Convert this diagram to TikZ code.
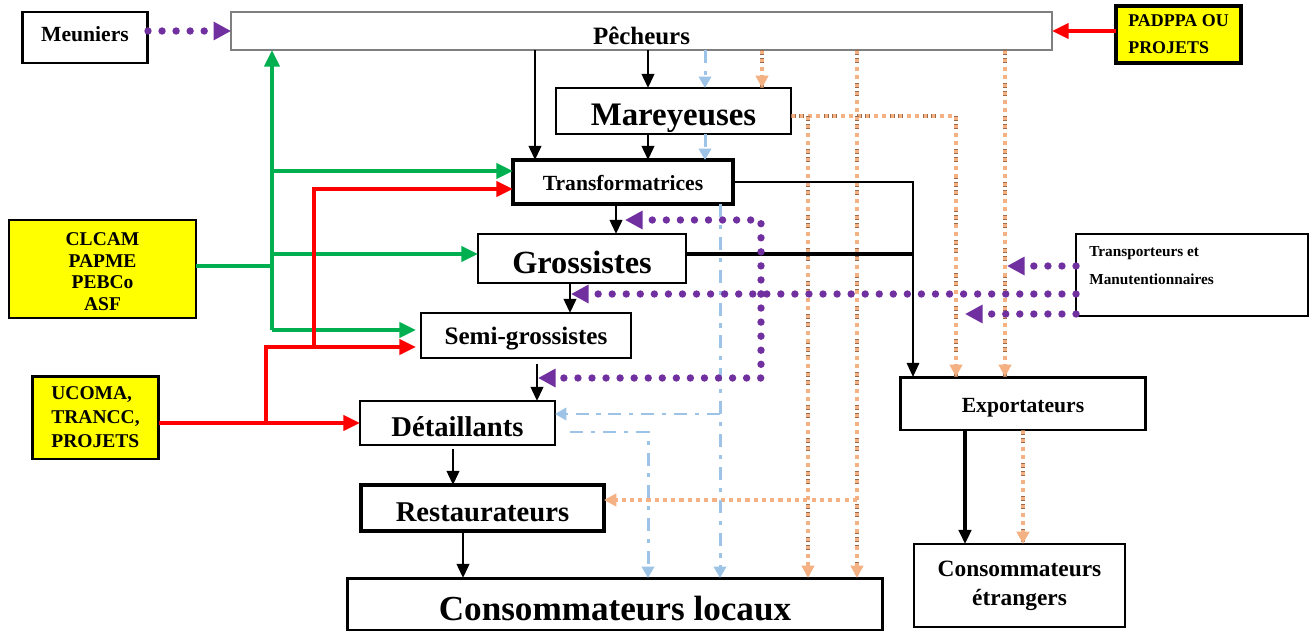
\documentclass[tikz,border=0pt]{standalone}
\usepackage{fontspec}
\setmainfont{Liberation Serif}
\usetikzlibrary{arrows.meta}
\definecolor{cgrn}{HTML}{00B050}
\definecolor{cred}{HTML}{FF0000}
\definecolor{cpur}{HTML}{7030A0}
\definecolor{cblu}{HTML}{9DC3E6}
\definecolor{corg}{HTML}{F4B183}
\definecolor{cbrn}{HTML}{9A6A4A}
\definecolor{cyel}{HTML}{FFFF00}
\definecolor{cgray}{HTML}{7F7F7F}
\newcommand\fsz[2]{\fontsize{#1}{#2}\selectfont}
\newcommand\dn[2]{\raisebox{-#1}[\height][\depth]{#2}}
\tikzset{
  bx/.style={draw, line width=#1, inner sep=0pt, outer sep=0pt},
  blkl/.style={line width=1.6pt},
  blk/.style={blkl, -{Triangle[length=8pt,width=7pt]}},
  grnl/.style={draw=cgrn, line width=2.3pt},
  grn/.style={grnl, -{Triangle[length=9.5pt,width=8.5pt]}},
  redl/.style={draw=cred, line width=2.3pt},
  rd/.style={redl, -{Triangle[length=9.5pt,width=8.5pt]}},
  purl/.style={draw=cpur, line width=4.2pt, line cap=round, dash pattern=on 0pt off 8pt},
  pur/.style={purl, -{Triangle[length=10pt,width=10pt,line cap=butt]}},
  blul/.style={draw=cblu, line width=1.7pt, dash pattern=on 7.4pt off 4.5pt on 2.3pt off 4.5pt},
  blu/.style={blul, -{Triangle[length=6.5pt,width=7pt]}},
  orgl/.style={draw=corg, line width=2.0pt, dash pattern=on 2.0pt off 2.7pt, dash phase=4.4pt,
     preaction={draw=cbrn, arrows=-, line width=2.6pt, dash pattern=on 2.6pt off 2.1pt, dash phase=0pt}},
  org/.style={orgl, -{Triangle[length=7pt,width=7pt,fill=corg]}},
  orgp/.style={draw=corg, line width=2.4pt, dash pattern=on 2.4pt off 2.3pt, -{Triangle[length=7pt,width=7pt]}},
}
\begin{document}
\begin{tikzpicture}[x=0.02cm,y=-0.02cm]
\useasboundingbox (0,0) rectangle (1311,632);

% nodes
\node[bx=1.7pt, minimum width=2.52cm, minimum height=1.02cm, font=\bfseries\fsz{12.3}{14}] (mun) at (85,37.5) {\dn{-0.07cm}{Meuniers}};
\node[bx=1.4pt, draw=cgray, minimum width=16.42cm, minimum height=0.76cm, font=\bfseries\fsz{14.2}{16}] (pec) at (641.5,31) {\dn{0.09cm}{Pêcheurs}};
\node[bx=2pt, fill=cyel, minimum width=2.5cm, minimum height=1.14cm, align=left, font=\bfseries\fsz{10.2}{15.3}] (pad) at (1178.5,34.5) {PADPPA OU\\PROJETS};
\node[bx=0.85pt, minimum width=4.7cm, minimum height=0.92cm, font=\bfseries\fsz{18.7}{20}] (mar) at (673.5,111) {\dn{0.15cm}{Mareyeuses}};
\node[bx=2pt, minimum width=4.4cm, minimum height=0.88cm, font=\bfseries\fsz{12.3}{14}] (tra) at (623,182) {\dn{0.02cm}{Transformatrices}};
\node[bx=1.5pt, minimum width=4.16cm, minimum height=0.98cm, font=\bfseries\fsz{18.4}{20}] (gro) at (582,258.5) {\dn{0.08cm}{Grossistes}};
\node[bx=1.2pt, minimum width=4.2cm, minimum height=0.9cm, font=\bfseries\fsz{14.3}{16}] (sem) at (526,335.5) {\dn{0.07cm}{Semi-grossistes}};
\node[bx=1.5pt, minimum width=3.9cm, minimum height=0.88cm, font=\bfseries\fsz{16.3}{18}] (det) at (457.5,423) {\dn{0.08cm}{Détaillants}};
\node[bx=2pt, minimum width=4.86cm, minimum height=0.92cm, font=\bfseries\fsz{16.3}{18}] (res) at (482.5,508) {\dn{0.08cm}{Restaurateurs}};
\node[bx=1.7pt, minimum width=10.72cm, minimum height=1.04cm, font=\bfseries\fsz{20}{22}] (col) at (615,604) {\dn{0.1cm}{Consommateurs locaux}};
\node[bx=1.7pt, minimum width=4.92cm, minimum height=1.06cm, font=\bfseries\fsz{12.3}{14}] (exp) at (1023,403.5) {\dn{0.08cm}{Exportateurs}};
\node[bx=0.85pt, minimum width=4.22cm, minimum height=1.66cm, align=center, font=\bfseries\fsz{13.3}{16.4}] (cet) at (1019.5,585.5) {Consommateurs\\étrangers};
\node[bx=1.2pt, minimum width=4.64cm, minimum height=1.64cm] (trp) at (1192,275) {};
\node[anchor=west, inner sep=0pt, align=left, font=\bfseries\fsz{8.7}{15.9}] (trpt) at (1089,266) {Transporteurs et\\Manutentionnaires};
\node[bx=1.5pt, fill=cyel, minimum width=3.74cm, minimum height=1.96cm, align=center, font=\bfseries\fsz{11.1}{12.2}] (clc) at (102.5,269) {\dn{0.05cm}{CLCAM}\\\dn{0.05cm}{PAPME}\\\dn{0.05cm}{PEBCo}\\\dn{0.05cm}{ASF}};
\node[bx=1.7pt, fill=cyel, minimum width=2.54cm, minimum height=1.66cm, align=left, font=\bfseries\fsz{11.1}{13.6}] (uco) at (95.5,417.5) {UCOMA,\\TRANCC,\\PROJETS};

% junction coordinates
\coordinate (gj) at (272,266);
\coordinate (gb) at (272,330);
\coordinate (rj) at (266,423);
\coordinate (rk) at (314,347);
\coordinate (bj) at (720,414);
\coordinate (oj) at (808,116);
\coordinate (ok) at (857,500);
\coordinate (pj) at (761,294);
\coordinate (pa) at (571,294);
\coordinate (pb) at (1007,266);
\coordinate (pc) at (965,314);

% orange dotted
\draw[org] (762,0 |- pec.south) -- (762,0 |- mar.north);
\draw[org] (mar.east |- oj) -- (956,116) -- (956,0 |- exp.north);
\draw[org] (oj) -- (808,0 |- col.north);
\draw[org] (857,0 |- pec.south) -- (857,0 |- col.north);
\draw[orgp] (ok) -- (res.east |- ok);
\draw[org] (1005,0 |- pec.south) -- (1005,0 |- exp.north);
\draw[org] (1023,0 |- exp.south) -- (1023,0 |- cet.north);

% blue dash-dot
\draw[blu] (705,0 |- pec.south) -- (705,0 |- mar.north);
\draw[blu] (705,0 |- mar.south) -- (705,0 |- tra.north);
\draw[blu] (720,0 |- tra.south) -- (720,0 |- col.north);
\draw[blu] (bj) -- (det.east |- bj);
\draw[blu, shorten <=0.3cm] (det.east |- 0,432) -- (648,432) -- (648,0 |- col.north);

% black
\draw[blk] (648,0 |- pec.south) -- (648,0 |- mar.north);
\draw[blk] (535,0 |- pec.south) -- (535,0 |- tra.north);
\draw[blk] (648,0 |- mar.south) -- (648,0 |- tra.north);
\draw[blk] (616,0 |- tra.south) -- (616,0 |- gro.north);
\draw[blk] (570,0 |- gro.south) -- (570,0 |- sem.north);
\draw[blk, shorten <=0.12cm] (537,0 |- sem.south) -- (537,0 |- det.north);
\draw[blk, shorten <=0.08cm] (453,0 |- det.south) -- (453,0 |- res.north);
\draw[blk] (463,0 |- res.south) -- (463,0 |- col.north);
\draw[blk, line width=1.3pt] (tra.east) -- (913,0 |- tra.east) -- (913,0 |- exp.north);
\draw[blkl, line width=1.8pt] (gro.east |- 0,254) -- (913,254);
\draw[blk, line width=2pt] (965,0 |- exp.south) -- (965,0 |- cet.north);

% purple dotted
\draw[pur] (mun.east |- pec.west) -- (pec.west);
\draw[pur] (trp.west |- pa) -- (pa);
\draw[pur] (pj) -- (761,220) -- (625,220);
\draw[pur] (pj) -- (761,378) -- (538,378);
\draw[pur] (trp.west |- pb) -- (pb);
\draw[pur] (trp.west |- pc) -- (pc);

% green
\draw[grnl] (clc.east |- gj) -- (gj);
\draw[grn] (gb) -- (272,0 |- pec.south);
\draw[grn] (272,171) -- (tra.west |- 0,171);
\draw[grn] (272,254) -- (gro.west |- 0,254);
\draw[grn] (gb) -- ([xshift=-0.1cm]sem.west |- gb);

% red
\draw[rd] (uco.east |- det.west) -- (det.west);
\draw[rd] (rj) -- (266,347) -- ([xshift=-0.1cm]sem.west |- rk);
\draw[rd] (rk) -- (314,189) -- (tra.west |- 0,189);
\draw[rd] (pad.west |- pec.east) -- (pec.east);
\end{tikzpicture}
\end{document}
